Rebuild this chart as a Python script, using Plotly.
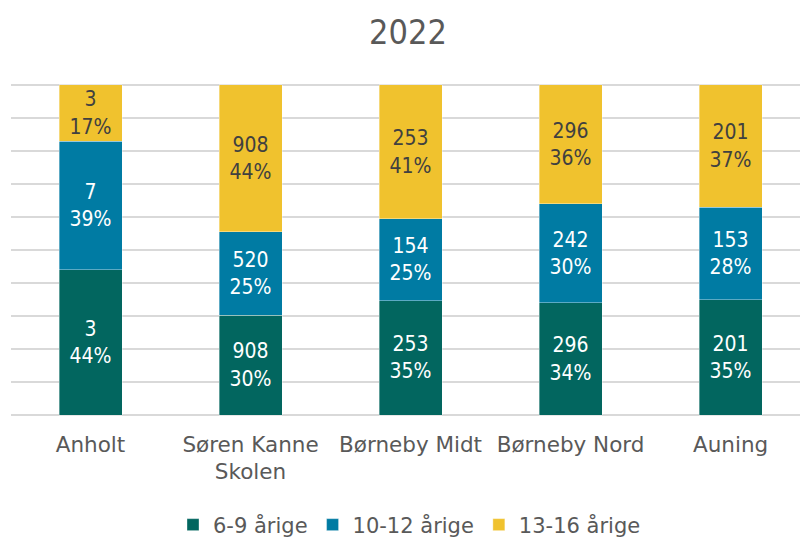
import plotly.graph_objects as go

categories = ["Anholt", "Søren Kanne<br>Skolen", "Børneby Midt", "Børneby Nord", "Auning"]
series_names = ["6-9 årige", "10-12 årige", "13-16 årige"]
counts_6_9 = [3, 908, 253, 296, 201]
counts_10_12 = [7, 520, 154, 242, 153]
counts_13_16 = [3, 908, 253, 296, 201]
pct_6_9 = [44, 30, 35, 34, 35]
pct_10_12 = [39, 25, 25, 30, 28]
pct_13_16 = [17, 44, 41, 36, 37]

colors = ["#02665F", "#007BA3", "#F0C22E"]
text_colors = ["#FFFFFF", "#FFFFFF", "#404040"]
FONT = "DejaVu Sans"
NUMFONT = "DejaVu Sans Condensed, DejaVu Sans"

W, H = 800, 529

fig = go.Figure()
for name, cnt, pct, col, tcol in zip(
    series_names,
    [counts_6_9, counts_10_12, counts_13_16],
    [pct_6_9, pct_10_12, pct_13_16],
    colors, text_colors,
):
    fig.add_trace(go.Bar(
        name=name,
        x=list(range(len(categories))),
        y=pct,
        text=[f"{c}<br>{p}%" for c, p in zip(cnt, pct)],
        textposition="inside",
        insidetextanchor="middle",
        textangle=0,
        constraintext="none",
        textfont=dict(family=NUMFONT, size=21, color=tcol),
        marker=dict(color=col, line=dict(color="rgba(255,255,255,0.45)", width=0.8)),
        hoverinfo="skip",
    ))

fig.update_layout(
    width=W, height=H,
    barmode="stack",
    barnorm="percent",
    bargap=0.606,
    paper_bgcolor="white",
    plot_bgcolor="white",
    margin=dict(l=3, r=0, t=75, b=120, autoexpand=False),
    title=dict(text="2022", x=0.5, xanchor="center", y=1 - 24 / H, yanchor="middle",
               font=dict(family=NUMFONT, size=34, color="#595959")),
    xaxis=dict(
        tickmode="array",
        tickvals=list(range(len(categories))),
        ticktext=categories,
        range=[-0.497, 4.484],
        showgrid=False, zeroline=False, showline=False,
        ticks="", ticklabelstandoff=12, automargin=False,
        tickfont=dict(family=FONT, size=21.5, color="#595959"),
    ),
    yaxis=dict(
        range=[-0.6, 100.6],
        tickmode="linear", tick0=0, dtick=10,
        showticklabels=False,
        showgrid=True, gridcolor="#D9D9D9", gridwidth=1.5,
        zeroline=False, showline=False, ticks="", automargin=False,
    ),
    legend=dict(
        orientation="h", x=0.5, xanchor="center",
        yref="container", y=1 - 517 / H, yanchor="middle",
        traceorder="normal",
        font=dict(family=FONT, size=21, color="#595959"),
        itemclick=False, itemdoubleclick=False,
    ),
    showlegend=True,
)

fig.write_html("out.html")
